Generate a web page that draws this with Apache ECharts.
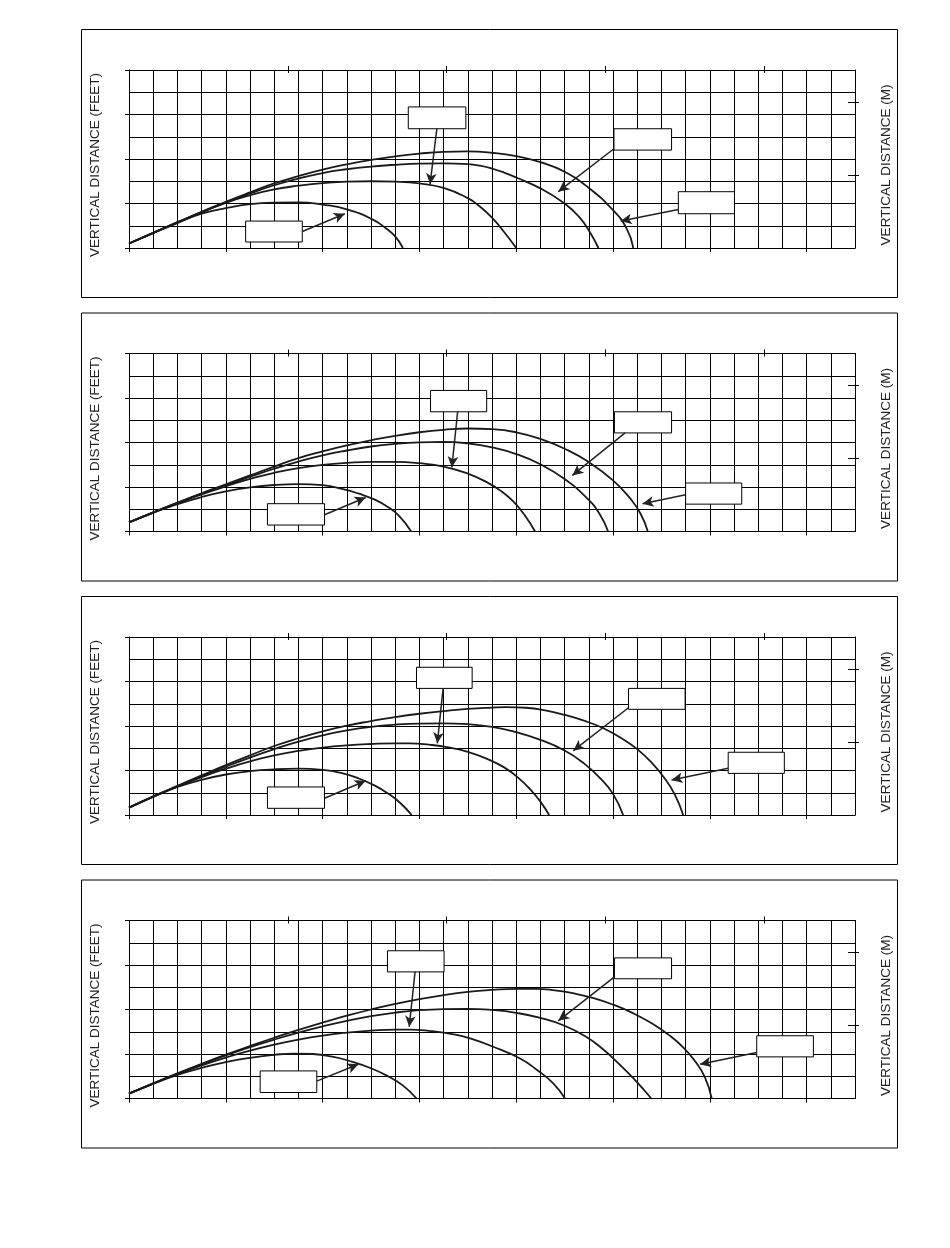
<!DOCTYPE html>
<html lang="en">
<head>
    <meta charset="UTF-8">
    <title>Vertical distance charts</title>
    <script src="https://cdn.jsdelivr.net/npm/echarts@6/dist/echarts.min.js"></script>
    <style>
        html, body { margin: 0; padding: 0; background: #fff; }
    </style>
</head>
<body>
<div id="main" style="width: 950px;height: 1248px"></div>
<script type="text/javascript">
    // axis ranges (feet) and the metric counterpart
    var xMaxFt = 150;
    var yMaxFt = 8;
    var ftPerM = 3.28084;
    var bottomTicksFt = [0, 20, 40, 60, 80, 100, 120, 140];
    var leftTicksFt = [0, 2, 4, 6, 8];
    var topTicksM = [10, 20, 30, 40];
    var rightTicksM = [1, 2];

    // panel 1 curves [horizontal ft, vertical ft]
    var p1A = [[0,0.2],[5,0.67],[10,1.12],[15,1.54],[20,1.79],[25,1.97],[30,2.04],[35,2.05],[40,1.95],[45,1.74],[50,1.32],[53,0.9],[55,0.52],[56.6,0]];
    var p1B = [[0,0.2],[5,0.68],[10,1.15],[15,1.6],[20,2.03],[25,2.37],[30,2.63],[35,2.8],[40,2.92],[45,2.98],[50,3.0],[55,2.98],[60,2.9],[65,2.7],[70,2.24],[72.5,1.86],[75,1.36],[77.5,0.72],[80,0]];
    var p1C = [[0,0.2],[5,0.68],[10,1.15],[15,1.61],[20,2.05],[25,2.45],[30,2.82],[35,3.12],[40,3.37],[45,3.54],[50,3.66],[55,3.74],[60,3.79],[65,3.8],[70,3.77],[72.5,3.7],[75,3.57],[77.5,3.39],[80,3.17],[85,2.68],[90,2.0],[93,1.4],[95.2,0.72],[97,0]];
    var p1D = [[0,0.2],[5,0.68],[10,1.16],[15,1.63],[20,2.08],[25,2.5],[30,2.9],[35,3.23],[40,3.52],[45,3.76],[50,3.96],[55,4.12],[60,4.24],[65,4.32],[70,4.34],[75,4.28],[80,4.13],[85,3.86],[90,3.43],[95,2.7],[100,1.7],[102.8,0.88],[104.2,0]];

    // panel 2 curves
    var p2A = [[0,0.41],[5,0.84],[10,1.23],[15,1.55],[20,1.8],[25,1.98],[30,2.09],[35,2.13],[40,2.08],[44,1.92],[47.5,1.7],[50.8,1.43],[53.5,1.1],[55.8,0.7],[58.3,0]];
    var p2B = [[0,0.41],[5,0.85],[10,1.27],[15,1.67],[20,2.03],[25,2.36],[30,2.64],[35,2.85],[40,2.99],[45,3.08],[50,3.13],[55,3.13],[60,3.07],[65,2.92],[70,2.6],[73.9,2.22],[77,1.8],[79.4,1.35],[81.8,0.72],[83.9,0]];
    var p2C = [[0,0.41],[5,0.86],[10,1.29],[15,1.7],[20,2.09],[25,2.46],[30,2.82],[35,3.14],[40,3.42],[45,3.64],[50,3.82],[55,3.94],[60,4.01],[65,4.03],[70,3.96],[75,3.78],[80,3.48],[85,3.02],[90,2.36],[94.6,1.5],[97.2,0.8],[99,0]];
    var p2D = [[0,0.41],[5,0.86],[10,1.3],[15,1.72],[20,2.12],[25,2.52],[30,2.92],[35,3.3],[40,3.6],[45,3.87],[50,4.1],[55,4.3],[60,4.46],[65,4.57],[70,4.63],[75,4.6],[80,4.46],[85,4.16],[90,3.72],[95,3.12],[100,2.3],[103.5,1.5],[105.7,0.8],[107.2,0]];

    // panel 3 curves
    var p3A = [[0,0.33],[5,0.84],[10,1.26],[15,1.58],[20,1.82],[25,1.97],[30,2.05],[35,2.08],[40,2.03],[44,1.88],[47.5,1.64],[50.8,1.32],[53.5,0.97],[56,0.55],[58.4,0]];
    var p3B = [[0,0.33],[5,0.81],[10,1.27],[15,1.7],[20,2.08],[25,2.41],[30,2.68],[35,2.88],[40,3.03],[45,3.13],[50,3.19],[55,3.22],[58,3.22],[62,3.16],[66,3.04],[70,2.84],[74,2.52],[77.5,2.14],[80.5,1.66],[83,1.13],[85,0.6],[86.8,0]];
    var p3C = [[0,0.33],[5,0.82],[10,1.29],[15,1.74],[20,2.17],[25,2.58],[30,2.96],[35,3.3],[40,3.58],[45,3.8],[50,3.96],[55,4.06],[60,4.11],[65,4.12],[70,4.08],[75,3.96],[80,3.72],[85,3.38],[90,2.9],[94,2.32],[97.5,1.62],[100,0.95],[102.1,0]];
    var p3D = [[0,0.33],[5,0.83],[10,1.31],[15,1.78],[20,2.24],[25,2.68],[30,3.1],[35,3.45],[40,3.76],[45,4.02],[50,4.22],[55,4.4],[60,4.55],[65,4.67],[70,4.77],[75,4.83],[78,4.85],[82,4.82],[86,4.7],[90,4.5],[94,4.24],[98,3.9],[102,3.42],[105,2.96],[108,2.35],[110.5,1.7],[112.7,0.95],[114.5,0]];

    // panel 4 curves
    var p4A = [[0,0.22],[5,0.66],[10,1.06],[15,1.38],[20,1.64],[25,1.83],[30,1.96],[34,2.02],[38,2.0],[42,1.88],[46,1.66],[50,1.36],[53.5,1.0],[56.5,0.6],[59.4,0]];
    var p4B = [[0,0.22],[5,0.67],[10,1.1],[15,1.49],[20,1.84],[25,2.15],[30,2.42],[35,2.65],[40,2.83],[45,2.96],[50,3.05],[55,3.1],[58,3.1],[62,3.04],[67.4,2.87],[70.5,2.7],[75,2.35],[80.8,1.8],[84.5,1.25],[87.7,0.67],[90.1,0]];
    var p4C = [[0,0.22],[5,0.68],[10,1.12],[15,1.54],[20,1.94],[25,2.31],[30,2.65],[35,2.96],[40,3.24],[45,3.49],[50,3.7],[55,3.86],[60,3.97],[65,4.02],[70,4.03],[75,3.98],[80,3.85],[85,3.62],[90,3.27],[94.6,2.75],[98,2.2],[101.4,1.52],[104.5,0.84],[106.5,0.36],[107.9,0]];
    var p4D = [[0,0.22],[5,0.68],[10,1.13],[15,1.56],[20,1.97],[25,2.36],[30,2.73],[35,3.08],[40,3.41],[45,3.72],[50,4.0],[55,4.25],[60,4.47],[65,4.65],[70,4.79],[75,4.88],[80,4.93],[84,4.93],[88,4.86],[92,4.72],[96,4.51],[100,4.22],[104,3.85],[108,3.38],[111.5,2.86],[114.5,2.3],[117,1.66],[119,0.95],[120.4,0]];

    // empty callout boxes [x1, y1, x2, y2] and arrows [fromX, fromY, toX, toY], in feet
    var boxes1 = [[57.7,5.36,69.6,6.34],[24.1,0.27,35.8,1.21],[100.2,4.40,112.1,5.36],[113.5,1.54,125.1,2.53]];
    var arrows1 = [[63.6,5.36,62.2,2.86],[35.8,0.74,44.6,1.54],[100.2,4.46,88.7,2.53],[113.5,1.73,101.6,1.21]];
    var boxes2 = [[62.3,5.38,73.9,6.34],[100.3,4.43,112.1,5.38],[115.0,1.23,126.6,2.18],[28.6,0.29,40.4,1.25]];
    var arrows2 = [[67.9,5.38,66.7,2.88],[102.5,4.43,91.6,2.52],[115.0,1.65,106.1,1.25],[40.4,0.75,48.9,1.53]];
    var boxes3 = [[59.4,5.69,70.9,6.64],[103.2,4.75,114.9,5.69],[123.8,1.87,135.4,2.82],[28.6,0.30,40.4,1.26]];
    var arrows3 = [[64.9,5.69,63.7,3.22],[103.2,4.82,91.8,2.89],[123.8,2.1,112.1,1.57],[40.4,0.75,48.9,1.54]];
    var boxes4 = [[53.4,5.69,65.1,6.64],[100.3,5.38,112.1,6.32],[129.7,1.87,141.4,2.82],[27.1,0.27,38.8,1.24]];
    var arrows4 = [[59.1,5.69,57.9,3.22],[100.3,5.47,88.7,3.49],[129.7,2.07,118.0,1.54],[38.8,0.78,47.4,1.54]];

    var curves = [[p1A, p1B, p1C, p1D], [p2A, p2B, p2C, p2D], [p3A, p3B, p3C, p3D], [p4A, p4B, p4C, p4D]];
    var boxes = [boxes1, boxes2, boxes3, boxes4];
    var arrows = [arrows1, arrows2, arrows3, arrows4];

    var ink = '#000';
    var textFont = '"Liberation Sans", Arial, Helvetica, sans-serif';
    var firstPanelY = 29, panelStep = 283.5, panelH = 268;

    function axisBase(grid, max, interval, position) {
        return {
            gridIndex: grid, type: 'value', min: 0, max: max, interval: interval,
            position: position, silent: true,
            axisLabel: {show: false},
            splitLine: {show: false},
            axisLine: {show: false, onZero: false, lineStyle: {color: ink, width: 1}},
            axisTick: {show: false}
        };
    }

    function tickAxis(grid, max, interval, position, ticks, len, inside) {
        var a = axisBase(grid, max, interval, position);
        a.axisTick = {show: true, inside: inside, length: len, customValues: ticks,
            lineStyle: {color: ink, width: 1}};
        return a;
    }

    var option = {
        animation: false,
        backgroundColor: '#fff',
        grid: [], xAxis: [], yAxis: [], series: [], graphic: []
    };

    for (var i = 0; i < 4; i++) {
        var panelY = firstPanelY + panelStep * i;
        option.grid.push({left: 129, top: panelY + 41, width: 726, height: 178, outerBoundsMode: 'none'});

        // x: 5 ft grid, 20 ft ticks, metric ticks on top
        var gx = axisBase(i, xMaxFt, 5, 'bottom');
        gx.axisLine.show = true;
        gx.splitLine = {show: true, lineStyle: {color: ink, width: 1}};
        option.xAxis.push(gx);
        option.xAxis.push(tickAxis(i, xMaxFt, 20, 'bottom', bottomTicksFt, 4, false));
        var mx = tickAxis(i, xMaxFt / ftPerM, 10, 'top', topTicksM, 4, false);
        mx.axisLine.show = true;
        option.xAxis.push(mx);
        option.xAxis.push(tickAxis(i, xMaxFt / ftPerM, 10, 'top', topTicksM, 3, true));

        // y: 1 ft grid, 2 ft ticks, metric ticks on the right
        var gy = axisBase(i, yMaxFt, 1, 'left');
        gy.axisLine.show = true;
        gy.splitLine = {show: true, lineStyle: {color: ink, width: 1}};
        option.yAxis.push(gy);
        option.yAxis.push(tickAxis(i, yMaxFt, 2, 'left', leftTicksFt, 4, false));
        var my = tickAxis(i, yMaxFt / ftPerM, 1, 'right', rightTicksM, 4, false);
        my.axisLine.show = true;
        option.yAxis.push(my);
        option.yAxis.push(tickAxis(i, yMaxFt / ftPerM, 1, 'right', rightTicksM, 7, true));

        for (var k = 0; k < 4; k++) {
            var s = {
                type: 'line',
                xAxisIndex: 4 * i,
                yAxisIndex: 4 * i,
                data: curves[i][k],
                symbol: 'none',
                smooth: 0.5,
                silent: true,
                z: 3,
                lineStyle: {color: '#1a1a1a', width: 1.8}
            };
            if (k === 0) {
                s.markArea = {
                    silent: true,
                    label: {show: false},
                    itemStyle: {color: '#fff', borderColor: ink, borderWidth: 1},
                    data: boxes[i].map(function (b) {
                        return [{coord: [b[0], b[1]]}, {coord: [b[2], b[3]]}];
                    })
                };
                s.markLine = {
                    silent: true,
                    symbol: ['none', 'arrow'],
                    symbolSize: [8, 11],
                    label: {show: false},
                    lineStyle: {color: '#222', width: 1.5, type: 'solid'},
                    data: arrows[i].map(function (a) {
                        return [{coord: [a[0], a[1]]}, {coord: [a[2], a[3]]}];
                    })
                };
            }
            option.series.push(s);
        }

        // panel frame and side titles
        option.graphic.push({
            type: 'rect', silent: true,
            shape: {x: 81.5, y: panelY + 0.5, width: 816, height: panelH},
            style: {fill: 'none', stroke: ink, lineWidth: 1}
        });
        option.graphic.push({
            type: 'text', silent: true, x: 95, y: panelY + 136, rotation: Math.PI / 2,
            style: {text: 'VERTICAL DISTANCE (FEET)', font: '13.5px ' + textFont, fill: '#222',
                align: 'center', verticalAlign: 'middle'}
        });
        option.graphic.push({
            type: 'text', silent: true, x: 886.5, y: panelY + 136, rotation: Math.PI / 2,
            style: {text: 'VERTICAL DISTANCE (M)', font: '13.5px ' + textFont, fill: '#222',
                align: 'center', verticalAlign: 'middle'}
        });
    }

    var myChart = echarts.init(document.getElementById('main'), null, {renderer: 'canvas'});
    myChart.setOption(option);
</script>
</body>
</html>
